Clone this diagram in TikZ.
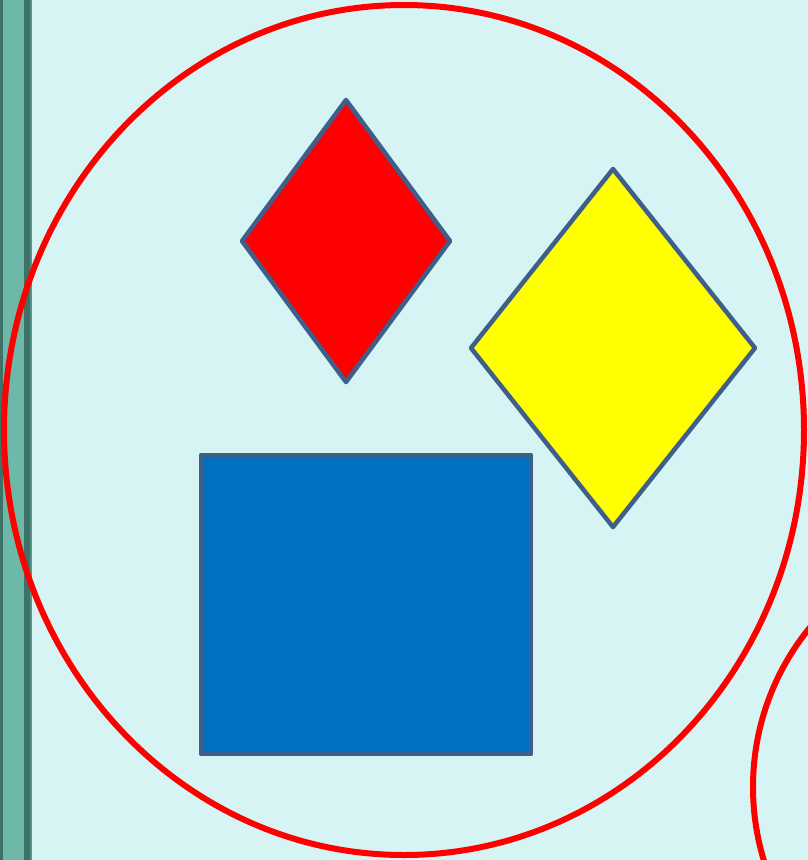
\documentclass[tikz,border=0pt]{standalone}
\usepackage{tikz}
\definecolor{paper}{HTML}{D6F4F3}
\definecolor{barteal}{HTML}{6DB8A8}
\definecolor{bardark}{HTML}{3E7268}
\definecolor{edgeblue}{HTML}{3D5F8A}
\definecolor{boxblue}{HTML}{0070C0}
\definecolor{lemon}{RGB}{255,255,0}
\definecolor{ruby}{RGB}{255,0,0}
\tikzstyle{ring}=[draw=ruby, line width=6pt]
\tikzstyle{piece}=[draw=edgeblue, line width=4.5pt, line join=round]

\begin{document}
\begin{tikzpicture}[x=1pt,y=-1pt]

    %background
    \useasboundingbox (0,0) rectangle (808,860);
    \clip (0,0) rectangle (808,860);
    \fill [paper] (0,0) rectangle (808,860);
    \fill [bardark] (0,0) rectangle (30,860);
    \fill [barteal] (3,0) rectangle (24,860);
    \fill [bardark!50!barteal] (30,0) rectangle (32,860);

    %rings
    \draw [ring] (404,430) ellipse [x radius=400, y radius=425];
    \draw [ring] (1005,787) circle [radius=252];

    %diamonds
    \draw [piece, fill=ruby] (346,100) -- (450,241) -- (346,382) -- (242,241) -- cycle;
    \draw [piece, fill=lemon] (613,169) -- (755,348) -- (613,527) -- (471,348) -- cycle;

    %square
    \draw [piece, fill=boxblue] (201,455) rectangle (531,754);

\end{tikzpicture}
\end{document}
